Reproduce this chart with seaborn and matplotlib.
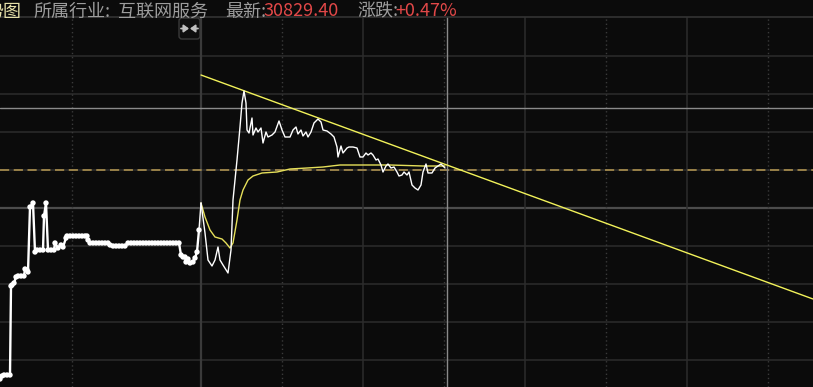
import matplotlib
matplotlib.use("Agg")
import matplotlib.pyplot as plt
from matplotlib.patches import FancyBboxPatch, FancyArrowPatch
import seaborn as sns

# ---------------- data ----------------
# time index (bars; 0 = session start of the expanded part), value = change vs prev close (%)
left_t = [-201, -199, -197, -194, -191, -190, -189, -187, -185, -183, -180, -177, -176, -174, -173,
          -171, -168, -166, -164, -161, -158, -157, -155, -153, -150, -147, -146, -143, -140, -138,
          -135, -134, -131, -128, -125, -122, -119, -116, -114, -113, -111, -108, -105, -102, -99,
          -96, -93, -91, -88, -85, -82, -79, -76, -73, -70, -67, -64, -61, -58, -55, -52, -49, -46,
          -43, -40, -37, -34, -31, -28, -25, -22, -20, -18, -16, -15, -13, -11, -8, -6, -4, -2]
left_v = [-2.09, -2.06, -2.05, -2.05, -2.05, -1.16, -1.15, -1.13, -1.07, -1.06, -1.06, -1.06, -0.99, -1.00, -1.02,
          -0.37, -0.33, -0.82, -0.80, -0.80, -0.80, -0.46, -0.33, -0.80, -0.80, -0.80, -0.73, -0.78, -0.75, -0.77,
          -0.68, -0.66, -0.66, -0.66, -0.66, -0.66, -0.66, -0.66, -0.66, -0.70, -0.73, -0.73, -0.73, -0.73, -0.73,
          -0.73, -0.73, -0.75, -0.76, -0.76, -0.76, -0.76, -0.76, -0.73, -0.73, -0.73, -0.73, -0.73, -0.73, -0.73, -0.73, -0.73, -0.73,
          -0.73, -0.73, -0.73, -0.73, -0.73, -0.73, -0.73, -0.73, -0.85, -0.87, -0.87, -0.92, -0.89, -0.93, -0.92, -0.88, -0.82, -0.60]

price_t = [0, 4, 7, 11, 14, 17, 19, 22, 27, 30, 32, 36, 39, 41, 43, 45, 46, 48, 51, 52, 55, 57, 60, 62,
           65, 67, 71, 74, 78, 81, 84, 89, 92, 95, 97, 100, 102, 105, 107, 110, 113, 117, 120, 122,
           126, 130, 133, 136, 137, 140, 142, 146, 148, 152, 156, 159, 162, 165, 167, 170, 172, 175,
           177, 180, 182, 185, 187, 190, 193, 196, 198, 201, 203, 206, 208, 211, 214, 217, 220, 222,
           225, 227, 231, 234, 237, 240, 242, 244]
price_v = [-0.33, -0.63, -0.90, -0.96, -0.90, -0.77, -0.90, -0.95, -1.03, -0.80, -0.30, 0.10, 0.43, 0.67,
           0.79, 0.67, 0.40, 0.37, 0.52, 0.35, 0.42, 0.38, 0.42, 0.27, 0.38, 0.33, 0.35, 0.38, 0.49,
           0.40, 0.33, 0.33, 0.40, 0.43, 0.36, 0.40, 0.34, 0.38, 0.33, 0.38, 0.47, 0.51, 0.48, 0.40,
           0.39, 0.36, 0.33, 0.23, 0.13, 0.24, 0.17, 0.22, 0.23, 0.23, 0.22, 0.13, 0.13, 0.17, 0.15,
           0.17, 0.15, 0.10, 0.11, 0.05, -0.02, 0.04, 0.06, 0.02, 0.03, -0.02, -0.06, -0.05, -0.02,
           -0.05, -0.02, -0.15, -0.18, -0.20, -0.15, -0.02, 0.06, -0.03, -0.03, 0.02, 0.04, 0.06,
           0.04, 0.02]

avg_t = [0, 4, 9, 14, 21, 25, 29, 32, 36, 39, 42, 47, 52, 61, 76, 89, 106, 122, 139, 156, 189, 222, 244]
avg_v = [-0.33, -0.47, -0.60, -0.67, -0.69, -0.73, -0.78, -0.73, -0.50, -0.30, -0.20, -0.10, -0.06,
         -0.03, -0.02, 0.01, 0.02, 0.03, 0.05, 0.05, 0.05, 0.04, 0.04]

trend_t = [0, 612]
trend_v = [0.95, -1.29]

prev_close = 0.0
cursor_t, cursor_v = 246, 0.62

title_parts = [("势图", "#e6e0a8"), ("所属行业:", "#9c9c9c"), ("互联网服务", "#9c9c9c"),
               ("最新:", "#9c9c9c"), ("30829.40", "#e24848"), ("涨跌:", "#9c9c9c"), ("+0.47%", "#e24848")]

# ---------------- style ----------------
BG = "#0b0b0b"
sns.set_style("dark")
plt.rcParams["font.family"] = ["Noto Sans CJK SC", "DejaVu Sans"]

W, H = 813, 387
fig = plt.figure(figsize=(W / 100, H / 100), dpi=100, facecolor=BG)
top_px = 17
ax = fig.add_axes([0, 0, 1, (H - top_px) / H])
ax.set_facecolor(BG)
for s in ["left", "right", "bottom"]:
    ax.spines[s].set_visible(False)
ax.spines["top"].set_color("#333333")
ax.spines["top"].set_linewidth(1.2)
ax.grid(False)

step = 0.38
for k in range(-5, 4):
    y = k * step
    if k == -1:
        ax.axhline(y, color="#4c4c4c", lw=1.6, zorder=1)
    else:
        ax.axhline(y, color="#2c2c2c", lw=1.1, zorder=1)
ax.axvline(0, color="#3a3a3a", lw=1.6, zorder=1)
for x in [162, 324, 486]:
    ax.axvline(x, color="#2c2c2c", lw=1.1, zorder=1)
for x in [-129, 81, 243, 405, 567]:
    ax.axvline(x, color="#3a3a3a", lw=1.0, ls=(0, (1, 2)), zorder=1)

# previous close dashed
ax.axhline(prev_close, color="#b89a52", lw=1.1, ls=(0, (6, 3)), zorder=2)
# crosshair
ax.axhline(cursor_v, color="#8a8a8a", lw=1.0, zorder=2)
ax.axvline(cursor_t, color="#8a8a8a", lw=1.0, zorder=2)

# lines
sns.lineplot(x=left_t, y=left_v, ax=ax, color="white", lw=1.7, estimator=None, sort=False, zorder=4)
sns.lineplot(x=[left_t[-1], price_t[0]], y=[left_v[-1], price_v[0]], ax=ax, color="white", lw=1.0,
             estimator=None, sort=False, zorder=4)
sns.scatterplot(x=left_t, y=left_v, ax=ax, color="white", s=15, edgecolor="none", zorder=5)
sns.lineplot(x=price_t, y=price_v, ax=ax, color="white", lw=1.0, estimator=None, sort=False, zorder=4)
sns.lineplot(x=avg_t, y=avg_v, ax=ax, color="#e6e05a", lw=1.0, estimator=None, sort=False, zorder=3)
sns.lineplot(x=trend_t, y=trend_v, ax=ax, color="#f2f25a", lw=1.0, estimator=None, sort=False, zorder=3)
ax.set_xlabel(""); ax.set_ylabel("")
ax.set_xticks([]); ax.set_yticks([])
ax.set_xlim(-201, 612)
ax.set_ylim(-2.17, 1.53)

# collapse icon
box = FancyBboxPatch((179, H - 39), 21, 21, boxstyle="round,pad=0,rounding_size=3",
                     transform=None, facecolor="#0e0e0e", edgecolor="#3a3a3a", lw=1.0, zorder=10)
fig.patches.append(box)
ya = H - 28.5
for x0, x1 in [(181, 189), (198, 190)]:
    arr = FancyArrowPatch((x0, ya), (x1, ya), transform=None, arrowstyle="-|>,head_length=3,head_width=2.2",
                          color="#c0c0c0", lw=1.3, mutation_scale=1, shrinkA=0, shrinkB=0, zorder=12)
    fig.patches.append(arr)

# title
xs = [-15, 33, 118, 225, 263, 357, 395]
for (txt, col), xp in zip(title_parts, xs):
    fig.text(xp / W, 1 - 16.5 / H, txt, color=col, fontsize=13, ha="left", va="baseline", zorder=12)

fig.savefig("out.png", dpi=100, facecolor=BG)
